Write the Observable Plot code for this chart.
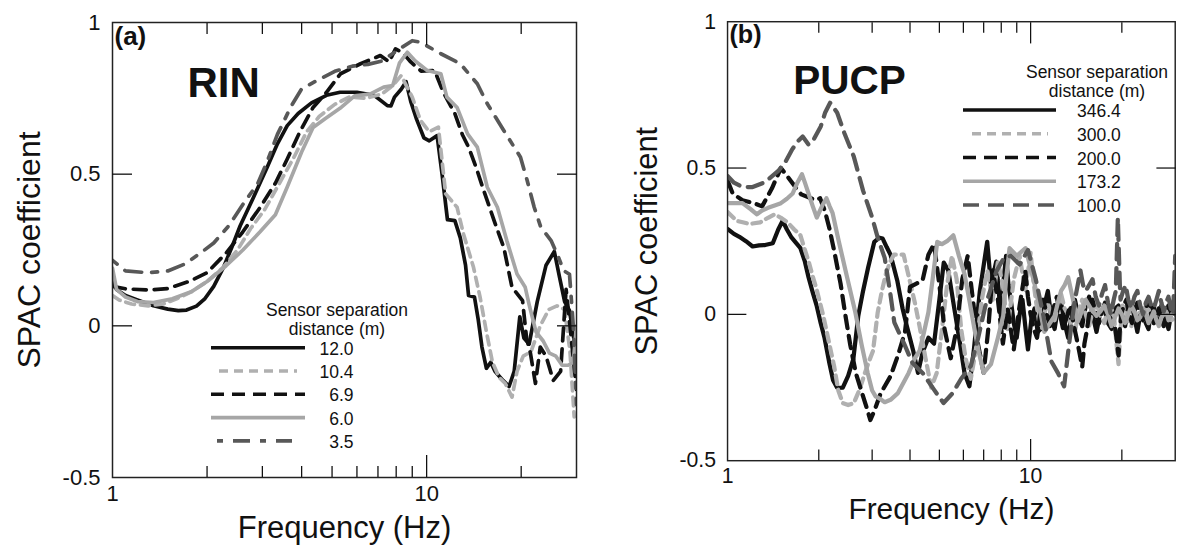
<!DOCTYPE html>
<html>
<head>
<meta charset="utf-8">
<script src="https://cdn.jsdelivr.net/npm/d3@7"></script>
<script src="https://cdn.jsdelivr.net/npm/@observablehq/plot@0.6"></script>
<style>
  html, body { margin: 0; padding: 0; background: #fff; overflow: hidden; }
  #wrap { position: relative; width: 1195px; height: 551px; overflow: hidden; background: #fff;
          font-family: "Liberation Sans", Arial, sans-serif; }
  #wrap > div.panel { position: absolute; top: 0; }
  #overlay { position: absolute; left: 0; top: 0; pointer-events: none; }
</style>
</head>
<body>
<div id="wrap"></div>
<script>
// ---------------- data (frequency Hz, SPAC coefficient) ----------------
// Panel (a) RIN
const rin_12_0 = [[1.0,0.15],[1.03,0.12],[1.1,0.1],[1.2,0.085],[1.35,0.066],[1.5,0.055],[1.62,0.05],[1.72,0.052],[1.85,0.065],[1.97,0.09],[2.1,0.13],[2.25,0.19],[2.4,0.26],[2.55,0.33],[2.8,0.42],[3.1,0.52],[3.35,0.6],[3.6,0.66],[3.9,0.7],[4.3,0.735],[4.8,0.76],[5.3,0.77],[6.0,0.77],[6.8,0.76],[7.5,0.726],[7.7,0.725],[7.9,0.754],[8.3,0.78],[8.6,0.805],[8.9,0.74],[9.3,0.68],[9.8,0.62],[10.2,0.61],[10.8,0.627],[11.2,0.5],[11.65,0.35],[12.3,0.347],[12.8,0.29],[13.3,0.2],[13.6,0.1],[14.2,0.095],[14.6,0.02],[15.0,-0.07],[15.5,-0.14],[16.0,-0.12],[16.5,-0.15],[17.5,-0.18],[18.3,-0.2],[19.0,-0.15],[19.8,0.03],[20.4,-0.04],[21.2,-0.06],[22.5,0.08],[24,0.2],[25.5,0.245],[26.5,0.16],[27.5,0.08],[28.5,0.05],[29.5,-0.05],[30,-0.08]];
const rin_10_4 = [[1.0,0.1],[1.05,0.085],[1.15,0.072],[1.3,0.066],[1.45,0.072],[1.6,0.089],[1.78,0.112],[2.0,0.146],[2.25,0.193],[2.5,0.25],[2.75,0.32],[3.05,0.383],[3.4,0.47],[3.8,0.56],[4.15,0.64],[4.55,0.69],[5.1,0.73],[5.7,0.755],[6.4,0.75],[7.2,0.764],[7.8,0.792],[8.3,0.825],[9.0,0.754],[9.56,0.677],[10.2,0.64],[10.9,0.655],[11.5,0.435],[12.5,0.391],[13.1,0.303],[14.1,0.193],[14.8,0.094],[15.5,-0.02],[16.2,-0.12],[17,-0.17],[17.8,-0.19],[18.7,-0.235],[19.4,-0.15],[20.3,-0.1],[21.5,-0.085],[23,0.0],[24.5,0.054],[26,0.066],[27.5,0.054],[28.6,-0.084],[29.5,-0.3]];
const rin_6_9 = [[1.0,0.13],[1.1,0.122],[1.3,0.118],[1.5,0.123],[1.75,0.146],[2.0,0.175],[2.3,0.24],[2.6,0.31],[2.95,0.39],[3.3,0.47],[3.6,0.55],[3.95,0.64],[4.35,0.72],[4.8,0.77],[5.32,0.831],[6.16,0.864],[7.12,0.891],[7.6,0.87],[7.96,0.913],[8.4,0.9],[8.9,0.87],[9.6,0.84],[10.6,0.842],[11.3,0.77],[12.3,0.70],[13.0,0.63],[13.6,0.589],[14.4,0.52],[15.2,0.446],[16.4,0.347],[17.6,0.259],[18.7,0.127],[20.2,0.083],[20.8,-0.04],[21.4,-0.09],[22.2,-0.19],[23.0,-0.07],[24.0,-0.1],[25.3,-0.18],[26.7,-0.15],[27.8,0.12],[28.6,0.0],[30,-0.21]];
const rin_6_0 = [[1.0,0.19],[1.03,0.12],[1.1,0.095],[1.2,0.08],[1.35,0.077],[1.55,0.089],[1.78,0.112],[2.0,0.146],[2.3,0.198],[2.6,0.25],[2.95,0.31],[3.3,0.366],[3.6,0.458],[4.0,0.573],[4.35,0.654],[4.75,0.683],[5.3,0.717],[5.9,0.758],[6.6,0.764],[7.3,0.787],[7.8,0.792],[8.2,0.867],[8.68,0.902],[9.2,0.873],[10.04,0.842],[11.1,0.831],[11.6,0.754],[12.5,0.72],[13.5,0.633],[14.5,0.589],[15.6,0.457],[16.8,0.391],[18.0,0.281],[19.4,0.171],[20.6,0.127],[21.3,0.061],[22.3,-0.02],[23.5,-0.05],[24.6,-0.09],[25.8,-0.1],[27.0,-0.13],[28.2,-0.13],[29.3,-0.12],[30,0.0]];
const rin_3_5 = [[1.0,0.216],[1.1,0.181],[1.3,0.175],[1.5,0.181],[1.7,0.204],[1.9,0.239],[2.1,0.273],[2.35,0.331],[2.6,0.4],[2.9,0.469],[3.1,0.539],[3.35,0.631],[3.7,0.723],[4.0,0.781],[4.5,0.81],[5.1,0.839],[5.8,0.856],[6.5,0.862],[7.2,0.873],[8.2,0.913],[9.0,0.94],[9.56,0.935],[11.1,0.897],[12.8,0.864],[14.5,0.798],[15.6,0.732],[17.6,0.644],[19.9,0.556],[20.9,0.479],[22.0,0.391],[23.1,0.325],[24.9,0.281],[26.2,0.23],[27.3,0.182],[28.5,0.17],[29.3,0.0],[30,-0.26]];

// Panel (b) PUCP
const pucp_346_4 = [[1.0,0.292],[1.05,0.275],[1.094,0.265],[1.15,0.25],[1.21,0.232],[1.27,0.236],[1.33,0.237],[1.41,0.243],[1.47,0.29],[1.52,0.32],[1.57,0.29],[1.62,0.265],[1.68,0.245],[1.74,0.226],[1.8,0.18],[1.85,0.127],[1.91,0.075],[1.97,0.028],[2.03,-0.03],[2.09,-0.081],[2.17,-0.169],[2.23,-0.225],[2.3,-0.251],[2.4,-0.25],[2.5,-0.21],[2.6,-0.153],[2.7,-0.005],[2.8,0.08],[2.91,0.16],[3.05,0.248],[3.17,0.262],[3.25,0.259],[3.35,0.23],[3.45,0.204],[3.63,0.116],[3.78,0.02],[3.9,-0.038],[4.1,-0.125],[4.25,-0.2],[4.4,-0.13],[4.6,-0.08],[4.8,-0.1],[5.0,0.05],[5.17,0.177],[5.35,0.15],[5.6,0.02],[5.85,-0.1],[6.05,-0.2],[6.28,-0.246],[6.5,-0.12],[6.8,0.08],[7.19,0.248],[7.4,0.1],[7.7,0.18],[8.0,-0.02],[8.15,0.12],[8.3,0.2],[8.45,0.1],[8.6,0.05],[8.8,-0.03],[9.0,-0.08],[9.2,0.0],[9.4,0.05],[9.6,-0.04],[9.8,-0.12],[10.05,-0.02],[10.3,0.02],[10.55,-0.06],[10.8,-0.05],[11.1,0.03],[11.4,0.08],[11.7,-0.01],[12.0,-0.05],[12.3,0.02],[12.6,0.04],[12.95,-0.03],[13.3,-0.08],[13.65,0.0],[14.0,0.05],[14.4,-0.01],[14.8,-0.04],[15.2,0.03],[15.6,0.06],[16.0,0.0],[16.5,-0.06],[17.0,0.01],[17.5,0.02],[18.0,-0.03],[18.5,-0.05],[19.0,0.02],[19.5,0.03],[20.0,-0.02],[20.5,-0.04],[21.0,0.03],[21.5,0.04],[22.0,-0.01],[22.5,-0.06],[23.0,0.0],[23.5,0.01],[24.0,-0.03],[24.5,-0.05],[25.0,0.02],[25.5,0.03],[26.0,-0.02],[26.5,-0.03],[27.0,0.03],[27.5,0.02],[28.0,-0.02],[28.5,-0.05],[29.2,0.01],[30,0.0]];
const pucp_300_0 = [[1.0,0.35],[1.07,0.32],[1.18,0.309],[1.28,0.314],[1.36,0.33],[1.43,0.342],[1.5,0.33],[1.58,0.314],[1.66,0.29],[1.74,0.27],[1.8,0.22],[1.85,0.182],[1.91,0.13],[1.97,0.083],[2.07,-0.005],[2.17,-0.104],[2.25,-0.18],[2.32,-0.26],[2.4,-0.303],[2.5,-0.31],[2.61,-0.303],[2.72,-0.26],[2.84,-0.2],[2.93,-0.16],[3.02,-0.125],[3.13,0.007],[3.23,0.08],[3.33,0.138],[3.44,0.18],[3.54,0.204],[3.81,0.204],[3.99,0.116],[4.15,0.04],[4.3,-0.04],[4.5,-0.15],[4.7,-0.25],[4.9,-0.2],[5.1,-0.05],[5.3,0.1],[5.5,0.2],[5.7,0.12],[5.9,-0.05],[6.1,-0.15],[6.35,-0.22],[6.6,-0.12],[6.9,0.05],[7.2,0.15],[7.5,0.05],[7.8,0.18],[8.1,0.1],[8.4,-0.05],[8.8,0.12],[9.2,0.2],[9.6,0.08],[10.0,0.21],[10.2,0.12],[10.4,0.05],[10.65,-0.02],[10.9,-0.05],[11.15,0.01],[11.4,0.04],[11.7,0.0],[12.0,-0.02],[12.3,0.03],[12.6,0.07],[12.95,0.02],[13.3,0.0],[13.65,-0.04],[14.0,-0.06],[14.4,0.01],[14.8,0.05],[15.2,0.0],[15.6,-0.04],[16.0,0.01],[16.5,0.04],[17.0,-0.01],[17.5,-0.03],[18.0,0.02],[18.5,0.02],[18.9,-0.02],[19.2,-0.1],[19.5,-0.17],[19.8,-0.05],[20.1,0.03],[20.5,0.02],[21.0,-0.02],[21.5,-0.04],[22.0,0.01],[22.5,0.03],[23.0,-0.01],[23.5,-0.02],[24.0,0.03],[24.5,0.02],[25.0,-0.02],[25.5,-0.03],[26.0,0.01],[26.5,0.02],[27.0,-0.03],[27.5,-0.02],[28.0,0.02],[28.5,0.03],[29.2,-0.02],[30,-0.01]];
const pucp_200_0 = [[1.0,0.457],[1.04,0.413],[1.12,0.39],[1.22,0.38],[1.3,0.369],[1.4,0.43],[1.5,0.5],[1.58,0.47],[1.66,0.44],[1.75,0.41],[1.85,0.4],[1.95,0.39],[2.02,0.397],[2.1,0.35],[2.17,0.292],[2.25,0.215],[2.36,0.105],[2.45,-0.005],[2.54,-0.104],[2.65,-0.2],[2.78,-0.27],[2.88,-0.32],[2.96,-0.361],[3.05,-0.33],[3.2,-0.27],[3.45,-0.211],[3.65,-0.14],[3.85,-0.061],[4.0,0.094],[4.2,0.105],[4.4,0.116],[4.6,0.204],[4.8,0.24],[5.0,0.1],[5.2,-0.05],[5.45,-0.15],[5.7,-0.05],[5.95,0.12],[6.2,0.2],[6.45,0.05],[6.7,-0.1],[7.0,-0.2],[7.25,-0.05],[7.5,0.15],[7.8,0.05],[8.1,-0.1],[8.4,0.02],[8.8,-0.12],[9.2,0.03],[9.6,0.15],[9.8,0.06],[10.0,0.0],[10.25,-0.05],[10.5,-0.08],[10.75,0.0],[11.0,0.05],[11.3,0.0],[11.6,-0.04],[11.9,0.02],[12.2,0.06],[12.5,0.0],[12.8,-0.05],[13.15,-0.01],[13.5,0.03],[13.9,-0.04],[14.3,-0.1],[14.8,-0.18],[15.05,-0.1],[15.3,-0.06],[15.65,0.01],[16.0,0.05],[16.4,0.0],[16.8,-0.03],[17.2,0.01],[17.6,0.04],[18.0,0.0],[18.5,-0.02],[18.9,-0.03],[19.2,-0.08],[19.5,-0.14],[19.7,-0.05],[19.9,0.0],[20.3,0.03],[20.7,0.05],[21.1,0.0],[21.6,-0.03],[22.0,0.01],[22.5,0.04],[23.0,0.0],[23.5,-0.02],[24.0,0.02],[24.5,0.05],[25.0,0.0],[25.5,-0.03],[26.0,0.0],[26.5,0.02],[27.0,-0.02],[27.5,-0.04],[28.0,0.0],[28.5,0.03],[29.2,0.0],[30,0.0]];
const pucp_173_2 = [[1.0,0.38],[1.06,0.38],[1.12,0.38],[1.19,0.36],[1.25,0.342],[1.3,0.355],[1.36,0.364],[1.43,0.372],[1.5,0.38],[1.57,0.395],[1.64,0.413],[1.7,0.45],[1.76,0.479],[1.8,0.45],[1.85,0.413],[1.91,0.37],[1.97,0.331],[2.05,0.37],[2.12,0.397],[2.17,0.37],[2.22,0.347],[2.33,0.248],[2.48,0.127],[2.64,0.007],[2.77,-0.104],[2.9,-0.2],[3.0,-0.26],[3.08,-0.28],[3.2,-0.29],[3.3,-0.3],[3.45,-0.292],[3.65,-0.269],[3.96,-0.2],[4.15,-0.15],[4.3,-0.125],[4.45,-0.06],[4.6,0.007],[4.75,0.12],[4.92,0.248],[5.1,0.24],[5.3,0.25],[5.56,0.27],[5.8,0.2],[6.05,0.138],[6.3,0.04],[6.52,-0.048],[6.75,-0.13],[7.0,-0.2],[7.4,-0.17],[7.8,-0.08],[8.12,-0.005],[8.3,0.12],[8.52,0.226],[9.0,0.2],[9.62,0.226],[10.3,0.105],[11.1,-0.06],[12.0,-0.005],[12.3,0.04],[12.6,0.08],[12.95,0.1],[13.3,0.127],[13.8,0.05],[14.3,-0.026],[14.75,0.01],[15.2,0.05],[15.8,0.02],[16.5,-0.005],[17.0,0.01],[17.5,0.03],[18.0,0.0],[18.5,-0.04],[19.0,-0.01],[19.5,0.02],[20.0,0.0],[20.5,-0.03],[21.0,0.0],[21.5,0.03],[22.0,0.01],[22.5,-0.02],[23.0,-0.01],[23.5,0.02],[24.0,0.0],[24.5,-0.03],[25.0,-0.01],[25.5,0.01],[26.0,-0.02],[26.5,-0.04],[27.0,-0.01],[27.5,0.0],[28.0,0.01],[28.5,-0.02],[29.2,0.0],[30,0.01]];
const pucp_100_0 = [[1.0,0.473],[1.05,0.45],[1.12,0.435],[1.21,0.435],[1.33,0.452],[1.47,0.49],[1.55,0.52],[1.63,0.562],[1.7,0.59],[1.77,0.608],[1.85,0.58],[1.93,0.6],[2.03,0.642],[2.1,0.69],[2.18,0.723],[2.3,0.689],[2.43,0.619],[2.61,0.539],[2.8,0.423],[3.0,0.331],[3.13,0.262],[3.3,0.193],[3.45,0.066],[3.55,-0.027],[3.85,-0.107],[4.07,-0.165],[4.4,-0.2],[4.8,-0.257],[5.16,-0.303],[5.53,-0.269],[5.9,-0.22],[6.35,-0.176],[6.7,-0.084],[7.1,0.031],[7.7,0.146],[8.16,0.193],[8.6,0.2],[9.2,0.17],[9.8,0.22],[10.4,0.12],[11.0,0.0],[11.7,-0.16],[12.3,-0.2],[12.9,-0.246],[13.4,-0.1],[13.7,-0.02],[14.0,0.05],[14.3,0.1],[14.6,0.15],[14.9,0.1],[15.2,0.08],[15.6,0.1],[16.0,0.12],[16.4,0.06],[16.8,0.03],[17.2,0.07],[17.6,0.1],[18.0,0.04],[18.4,0.0],[18.8,0.05],[19.1,0.08],[19.4,0.33],[19.7,0.1],[19.8,0.05],[20.2,0.08],[20.6,0.1],[21.0,0.05],[21.5,0.02],[22.0,0.06],[22.5,0.08],[23.0,0.03],[23.5,0.0],[24.0,0.04],[24.5,0.06],[25.0,0.03],[25.5,0.02],[26.0,0.05],[26.5,0.08],[27.0,0.04],[27.5,0.01],[28.0,0.04],[28.5,0.06],[29.0,0.02],[29.5,0.0],[29.8,0.12],[30,0.2]];

// labels / categories
const rinLabels = ["12.0", "10.4", "6.9", "6.0", "3.5"];
const pucpLabels = ["346.4", "300.0", "200.0", "173.2", "100.0"];
const yTicks = [-0.5, 0, 0.5, 1];
const xLabelTicks = [1, 10];
const xMinorTicks = [2, 3, 4, 5, 6, 7, 8, 9, 20];
const xMajorTicks = [10];
const yInnerTicks = [0, 0.5];

// line styles (shared order in both panels)
const styles = [
  {stroke: "#111111", dash: null},          // solid black
  {stroke: "#b0b0b0", dash: "9,6"},         // light gray dashed
  {stroke: "#111111", dash: "13,8"},        // black dashed
  {stroke: "#a6a6a6", dash: null},          // gray solid
  {stroke: "#585858", dash: null}           // dark gray (pattern per panel)
];
const rinLastDash = "6,10,17,10";
const pucpLastDash = "16,9";

const FONT = "'Liberation Sans', Arial, Helvetica, sans-serif";

function panel(seriesList, lastDash, lineWidth, tag, site, siteDx) {
  const lines = seriesList.map((data, i) => {
    const st = styles[i];
    const dash = i === 4 ? lastDash : st.dash;
    return Plot.line(data, {x: d => d[0], y: d => d[1], stroke: st.stroke, strokeWidth: lineWidth,
      strokeDasharray: dash, strokeLinejoin: "round", clip: true});
  });
  return Plot.plot({
    width: 597, height: 551,
    marginTop: 22, marginLeft: 112, marginRight: 21, marginBottom: 74,
    x: {type: "log", domain: [1, 30]},
    y: {domain: [-0.5, 1]},
    style: {fontFamily: FONT, background: "transparent", overflow: "visible", color: "#111"},
    marks: [
      ...lines,
      Plot.frame({stroke: "#222", strokeWidth: 1.5}),
      Plot.axisX({ticks: xMinorTicks, anchor: "bottom", tickSize: -11, fill: "none", strokeWidth: 1.3}),
      Plot.axisX({ticks: xMinorTicks, anchor: "top", tickSize: -11, fill: "none", strokeWidth: 1.3}),
      Plot.axisX({ticks: xMajorTicks, anchor: "bottom", tickSize: -22, fill: "none", strokeWidth: 1.3}),
      Plot.axisX({ticks: xMajorTicks, anchor: "top", tickSize: -22, fill: "none", strokeWidth: 1.3}),
      Plot.axisX({ticks: xLabelTicks, anchor: "bottom", tickSize: 0, tickPadding: 8, fontSize: 22,
        tickFormat: d => String(d), label: null}),
      Plot.axisY({ticks: yInnerTicks, anchor: "left", tickSize: -20, fill: "none", strokeWidth: 1.3}),
      Plot.axisY({ticks: yInnerTicks, anchor: "right", tickSize: -20, fill: "none", strokeWidth: 1.3}),
      Plot.axisY({ticks: yTicks, anchor: "left", tickSize: 0, tickPadding: 12, fontSize: 22,
        tickFormat: d => String(d), label: null}),
      Plot.text(["Frequency (Hz)"], {text: d => d, frameAnchor: "bottom", textAnchor: "middle", lineAnchor: "top", dy: 38, fontSize: 31}),
      Plot.text(["SPAC coefficient"], {text: d => d, frameAnchor: "left", textAnchor: "middle", lineAnchor: "middle", rotate: -90, dx: -83, fontSize: 32}),
      Plot.text([tag], {text: d => d, frameAnchor: "top-left", textAnchor: "start", lineAnchor: "top", dx: 2, dy: 4, fontSize: 26, fontWeight: "bold"}),
      Plot.text([site], {text: d => d, frameAnchor: "top-left", textAnchor: "start", lineAnchor: "top", dx: siteDx, dy: 45, fontSize: 42, fontWeight: "bold"})
    ]
  });
}

const wrap = document.getElementById("wrap");
const pa = document.createElement("div"); pa.className = "panel"; pa.style.left = "0px";
pa.appendChild(panel([rin_12_0, rin_10_4, rin_6_9, rin_6_0, rin_3_5], rinLastDash, 3.7, "(a)", "RIN", 75));
const pb = document.createElement("div"); pb.className = "panel"; pb.style.left = "619px";
pb.appendChild(panel([pucp_346_4, pucp_300_0, pucp_200_0, pucp_173_2, pucp_100_0], pucpLastDash, 4.4, "(b)", "PUCP", 68));
wrap.appendChild(pa); wrap.appendChild(pb);

// ---------------- legends (overlay) ----------------
const ov = d3.select(wrap).append("svg").attr("id", "overlay").attr("width", 1195).attr("height", 551)
  .style("font-family", FONT);

function legend(cfg) {
  const g = ov.append("g");
  g.append("text").attr("x", cfg.titleX).attr("y", cfg.titleY1).attr("text-anchor", "middle")
    .attr("font-size", 17.5).attr("fill", "#111").text("Sensor separation");
  g.append("text").attr("x", cfg.titleX).attr("y", cfg.titleY2).attr("text-anchor", "middle")
    .attr("font-size", 17.5).attr("fill", "#111").text("distance (m)");
  cfg.labels.forEach((lab, i) => {
    const st = styles[i];
    const y = cfg.y0 + i * cfg.step;
    const dash = i === 4 ? cfg.lastDash : st.dash;
    const inset = cfg.insets[i];
    g.append("line").attr("x1", cfg.x0 + inset[0]).attr("x2", cfg.x1 - inset[1]).attr("y1", y).attr("y2", y)
      .attr("stroke", st.stroke).attr("stroke-width", 3.6).attr("stroke-dasharray", dash);
    g.append("text").attr("x", cfg.labelX).attr("y", y + 7).attr("text-anchor", cfg.labelAnchor)
      .attr("font-size", 17.5).attr("fill", "#111").text(lab);
  });
}

legend({labels: rinLabels, lastDash: rinLastDash, titleX: 337, titleY1: 316, titleY2: 334.5,
  x0: 211, x1: 305, y0: 347.7, step: 23.3, labelX: 353.5, labelAnchor: "end",
  insets: [[0,0],[8,8],[0,0],[0,0],[6,13]]});
legend({labels: pucpLabels, lastDash: pucpLastDash, titleX: 1097, titleY1: 78.3, titleY2: 96.7,
  x0: 963, x1: 1056, y0: 110, step: 23.75, labelX: 1077, labelAnchor: "start",
  insets: [[0,0],[9,8],[0,0],[0,0],[0,0]]});
</script>
</body>
</html>
